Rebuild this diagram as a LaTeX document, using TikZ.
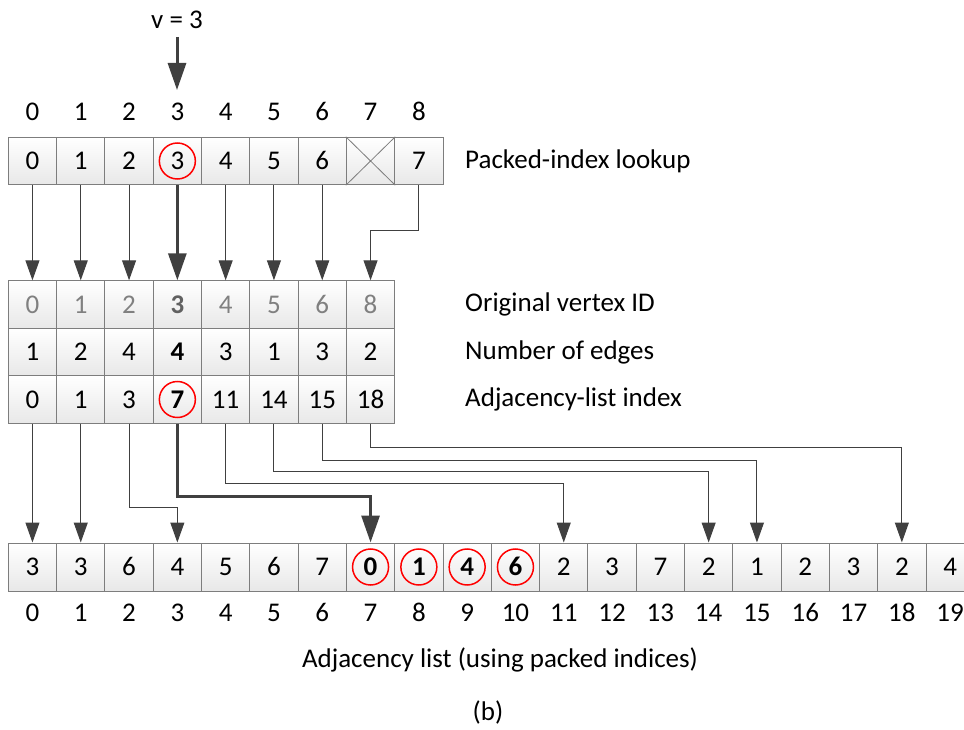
\documentclass[tikz,border=0pt]{standalone}
\usepackage{fontspec}
\setmainfont{Carlito}
\usetikzlibrary{arrows.meta,positioning,calc}
\definecolor{LineDark}{RGB}{64,64,64}
\definecolor{CellEdge}{RGB}{125,125,125}
\definecolor{IdGray}{RGB}{128,128,128}

\begin{document}
\begin{tikzpicture}[x=1pt,y=-1pt,
    every node/.style={font=\fontsize{27}{32}\selectfont},
    cell/.style={rectangle,draw=CellEdge,line width=1pt,
                 top color=white,bottom color=black!9,
                 minimum width=48.3pt,minimum height=47.4pt,inner sep=0pt,
                 text height=17pt,text depth=0pt},
    idx/.style={inner sep=0pt,text height=17pt,text depth=0pt},
    rowlbl/.style={anchor=west,inner sep=0pt},
    ring/.style={circle,draw=red,line width=1.5pt,minimum size=36pt,inner sep=0pt},
    conn/.style={draw=LineDark,line width=1pt,
                 -{Triangle[length=20pt,width=14pt]}},
    hot/.style={draw=LineDark,line width=3pt,
                -{Triangle[length=27pt,width=18pt]}}
  ]
  \useasboundingbox (0,0) rectangle (964,730);

  % incoming vertex
  \node (v) at (177,20) {v = 3};
  \coordinate (vtop) at (177,37);
  \coordinate (vtip) at (177,90);
  \draw[hot] (vtop) -- (vtip);

  % packed-index lookup
  \foreach \v [count=\i from 0] in {0,1,2,3,4,5,6,{},7}{
    \node[cell] (p\i) at (32.45+48.3*\i,161) {\v};
    \node[idx] (pi\i) at (32.45+48.3*\i,112) {\i};
  }
  \draw[CellEdge,line width=0.8pt]
    (p7.north west) -- (p7.south east) (p7.north east) -- (p7.south west);
  \node[rowlbl] (lkp) at (465,161) {Packed-index lookup};

  % vertex table
  \foreach \v [count=\i from 0] in {0,1,2,{\color{black!62}\bfseries 3},4,5,6,8}
    \node[cell,text=IdGray] (o\i) at (32.45+48.3*\i,304.5) {\v};
  \foreach \v [count=\i from 0] in {1,2,4,{\bfseries 4},3,1,3,2}
    \node[cell] (n\i) at (32.45+48.3*\i,352) {\v};
  \foreach \v [count=\i from 0] in {0,1,3,{\bfseries 7},11,14,15,18}
    \node[cell] (a\i) at (32.45+48.3*\i,399.5) {\v};
  \node[rowlbl] (vid) at (465,304.5) {Original vertex ID};
  \node[rowlbl] (ned) at (465,352) {Number of edges};
  \node[rowlbl] (aix) at (465,399.5) {Adjacency-list index};

  % adjacency list
  \foreach \v [count=\i from 0] in {3,3,6,4,5,6,7,{\bfseries 0},{\bfseries 1},
      {\bfseries 4},{\bfseries 6},2,3,7,2,1,2,3,2,4}{
    \node[cell,minimum height=48pt] (L\i) at (32.45+48.3*\i,567) {\v};
    \node[idx] (Li\i) at (32.45+48.3*\i,613) {\i};
  }
  \node (cap) at (500,660) {Adjacency list (using packed indices)};
  \node (sub) at (488,712) {(b)};

  \foreach \r in {p3,a3,L7,L8,L9,L10}
    \node[ring] (c-\r) at (\r) {};

  % lookup -> vertex table
  \foreach \i in {0,1,2,4,5,6}
    \draw[conn] (p\i) -- (o\i);
  \draw[hot] (p3) -- (o3);
  \draw[conn] (p8.south) -- ++(0,45) -| (o7.north);

  % vertex table -> adjacency list
  \draw[conn] (a0) -- (L0);
  \draw[conn] (a1) -- (L1);
  \draw[conn] (a2.south) -- ++(0,84) -| (L3.north);
  \draw[hot] (a3.south) -- ++(0,73) -| (L7.north);
  \draw[conn] (a4.south) -- ++(0,60) -| (L11.north);
  \draw[conn] (a5.south) -- ++(0,48) -| (L14.north);
  \draw[conn] (a6.south) -- ++(0,37) -| (L15.north);
  \draw[conn] (a7.south) -- ++(0,24) -| (L18.north);
\end{tikzpicture}
\end{document}
